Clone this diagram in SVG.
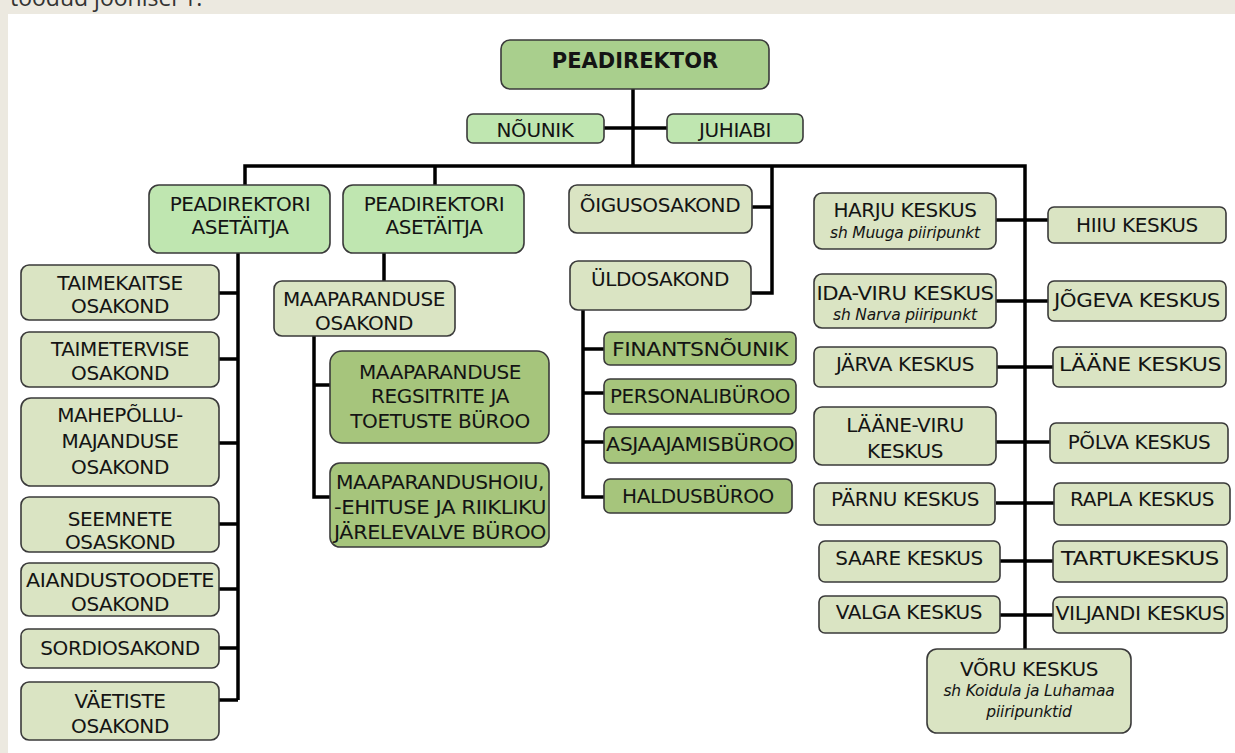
<svg xmlns="http://www.w3.org/2000/svg" width="1235" height="753" viewBox="0 0 1235 753">
<style>
.bg{fill:#ece9e0}
.panel{fill:#ffffff}
rect.n{stroke:#3a3a3a;stroke-width:1.6}
.top{fill:#a9cf8d}
.lg{fill:#bfe6b0}
.pale{fill:#dae4c3}
.mid{fill:#a6c57c}
text{font-family:"DejaVu Sans","Liberation Sans",sans-serif;font-size:20px;letter-spacing:-0.4px;fill:#141414;text-anchor:middle}
text.b{font-weight:bold;font-size:21px;letter-spacing:0}
text.i{font-style:italic;font-size:15.5px;letter-spacing:-0.2px}
text.page{font-family:"Open Sans","DejaVu Sans",sans-serif;font-size:23px;letter-spacing:0;text-anchor:start;fill:#333}
.c{fill:none;stroke:#000;stroke-width:3.5;stroke-linecap:butt;stroke-linejoin:miter}
</style>
<rect class="bg" x="0" y="0" width="1235" height="753"/>
<text class="page" x="10" y="6">toodud joonisel 1.</text>
<rect class="panel" x="8" y="14" width="1227" height="739"/>

<g id="connectors">
<path class="c" d="M633,89 V166"/>
<path class="c" d="M604,128 H667"/>
<path class="c" d="M245,185 V166 H1025 V649"/>
<path class="c" d="M435,166 V185"/>
<path class="c" d="M772,166 V293 H751"/>
<path class="c" d="M752,207 H772"/>
<path class="c" d="M238,253 V700"/>
<path class="c" d="M219,293 H238 M219,359 H238 M219,443 H238 M219,524 H238 M219,589 H238 M219,648 H238 M219,700 H238"/>
<path class="c" d="M384,253 V281"/>
<path class="c" d="M314,336 V497 H330 M314,385 H330"/>
<path class="c" d="M583,310 V497 H604 M583,349 H604 M583,393 H604 M583,442 H604"/>
<path class="c" d="M996,220 H1048 M996,301 H1048 M997,367 H1053 M996,442 H1050 M996,503 H1054 M1000,561 H1053 M1000,615 H1053"/>
</g>

<g id="peadirektor"><rect class="n top" x="501" y="40" width="268" height="49" rx="9"/><text class="b" x="635" y="68">PEADIREKTOR</text></g>
<g id="nounik"><rect class="n lg" x="467" y="114" width="137" height="29" rx="6"/><text x="535" y="137">NÕUNIK</text></g>
<g id="juhiabi"><rect class="n lg" x="667" y="114" width="136" height="29" rx="6"/><text x="735" y="137">JUHIABI</text></g>

<g id="asetaitja1"><rect class="n lg" x="149" y="185" width="181" height="68" rx="10"/><text x="240" y="211">PEADIREKTORI</text><text x="240" y="234">ASETÄITJA</text></g>
<g id="asetaitja2"><rect class="n lg" x="343" y="185" width="181" height="68" rx="10"/><text x="434" y="211">PEADIREKTORI</text><text x="434" y="234">ASETÄITJA</text></g>
<g id="oigusosakond"><rect class="n pale" x="569" y="185" width="183" height="48" rx="8"/><text x="660" y="212">ÕIGUSOSAKOND</text></g>
<g id="uldosakond"><rect class="n pale" x="570" y="261" width="181" height="49" rx="8"/><text x="660" y="286">ÜLDOSAKOND</text></g>

<g id="taimekaitse"><rect class="n pale" x="21" y="265" width="198" height="55" rx="8"/><text x="120" y="290">TAIMEKAITSE</text><text x="120" y="313">OSAKOND</text></g>
<g id="taimetervise"><rect class="n pale" x="21" y="332" width="198" height="55" rx="8"/><text x="120" y="356">TAIMETERVISE</text><text x="120" y="380">OSAKOND</text></g>
<g id="mahepollu"><rect class="n pale" x="21" y="398" width="198" height="88" rx="10"/><text x="120" y="422">MAHEPÕLLU-</text><text x="120" y="448">MAJANDUSE</text><text x="120" y="474">OSAKOND</text></g>
<g id="seemnete"><rect class="n pale" x="21" y="497" width="198" height="55" rx="8"/><text x="120" y="526">SEEMNETE</text><text x="120" y="549">OSASKOND</text></g>
<g id="aiandustoodete"><rect class="n pale" x="21" y="563" width="198" height="53" rx="8"/><text x="120" y="587" textLength="188" lengthAdjust="spacingAndGlyphs">AIANDUSTOODETE</text><text x="120" y="611">OSAKOND</text></g>
<g id="sordiosakond"><rect class="n pale" x="21" y="629" width="198" height="39" rx="7"/><text x="120" y="655">SORDIOSAKOND</text></g>
<g id="vaetiste"><rect class="n pale" x="21" y="682" width="198" height="58" rx="8"/><text x="120" y="708">VÄETISTE</text><text x="120" y="733">OSAKOND</text></g>

<g id="maaparanduse-osakond"><rect class="n pale" x="274" y="281" width="181" height="55" rx="8"/><text x="364" y="306">MAAPARANDUSE</text><text x="364" y="330">OSAKOND</text></g>
<g id="maaparanduse-registrite"><rect class="n mid" x="330" y="351" width="219" height="92" rx="12"/><text x="440" y="379">MAAPARANDUSE</text><text x="440" y="403">REGSITRITE JA</text><text x="440" y="428">TOETUSTE BÜROO</text></g>
<g id="maaparandushoiu"><rect class="n mid" x="330" y="463" width="219" height="84" rx="10"/><text x="440" y="489" textLength="208" lengthAdjust="spacingAndGlyphs">MAAPARANDUSHOIU,</text><text x="440" y="514" textLength="212" lengthAdjust="spacingAndGlyphs">-EHITUSE JA RIIKLIKU</text><text x="440" y="539" textLength="212" lengthAdjust="spacingAndGlyphs">JÄRELEVALVE BÜROO</text></g>

<g id="finantsnounik"><rect class="n mid" x="604" y="332" width="192" height="33" rx="6"/><text x="700" y="356" textLength="176" lengthAdjust="spacingAndGlyphs">FINANTSNÕUNIK</text></g>
<g id="personalibyroo"><rect class="n mid" x="604" y="379" width="192" height="35" rx="6"/><text x="700" y="403" textLength="180" lengthAdjust="spacingAndGlyphs">PERSONALIBÜROO</text></g>
<g id="asjaajamisbyroo"><rect class="n mid" x="604" y="427" width="192" height="36" rx="6"/><text x="700" y="451" textLength="188" lengthAdjust="spacingAndGlyphs">ASJAAJAMISBÜROO</text></g>
<g id="haldusbyroo"><rect class="n mid" x="604" y="479" width="188" height="34" rx="6"/><text x="698" y="503">HALDUSBÜROO</text></g>

<g id="harju"><rect class="n pale" x="814" y="193" width="182" height="56" rx="8"/><text x="905" y="217">HARJU KESKUS</text><text class="i" x="905" y="238">sh Muuga piiripunkt</text></g>
<g id="hiiu"><rect class="n pale" x="1048" y="207" width="178" height="36" rx="6"/><text x="1137" y="232">HIIU KESKUS</text></g>
<g id="ida-viru"><rect class="n pale" x="814" y="274" width="182" height="54" rx="8"/><text x="905" y="300" textLength="177" lengthAdjust="spacingAndGlyphs">IDA-VIRU KESKUS</text><text class="i" x="905" y="320">sh Narva piiripunkt</text></g>
<g id="jogeva"><rect class="n pale" x="1048" y="281" width="178" height="40" rx="6"/><text x="1137" y="307" textLength="166" lengthAdjust="spacingAndGlyphs">JÕGEVA KESKUS</text></g>
<g id="jarva"><rect class="n pale" x="814" y="347" width="183" height="40" rx="6"/><text x="905" y="371">JÄRVA KESKUS</text></g>
<g id="laane"><rect class="n pale" x="1053" y="347" width="173" height="40" rx="6"/><text x="1140" y="371" textLength="162" lengthAdjust="spacingAndGlyphs">LÄÄNE KESKUS</text></g>
<g id="laane-viru"><rect class="n pale" x="814" y="407" width="182" height="58" rx="8"/><text x="905" y="432">LÄÄNE-VIRU</text><text x="905" y="458">KESKUS</text></g>
<g id="polva"><rect class="n pale" x="1050" y="423" width="178" height="40" rx="6"/><text x="1139" y="449">PÕLVA KESKUS</text></g>
<g id="parnu"><rect class="n pale" x="814" y="483" width="181" height="42" rx="6"/><text x="905" y="506">PÄRNU KESKUS</text></g>
<g id="rapla"><rect class="n pale" x="1054" y="483" width="176" height="42" rx="6"/><text x="1142" y="506">RAPLA KESKUS</text></g>
<g id="saare"><rect class="n pale" x="819" y="541" width="181" height="41" rx="6"/><text x="909" y="565">SAARE KESKUS</text></g>
<g id="tartu"><rect class="n pale" x="1053" y="541" width="174" height="41" rx="6"/><text x="1140" y="565" textLength="158" lengthAdjust="spacingAndGlyphs">TARTUKESKUS</text></g>
<g id="valga"><rect class="n pale" x="819" y="596" width="181" height="37" rx="6"/><text x="909" y="619">VALGA KESKUS</text></g>
<g id="viljandi"><rect class="n pale" x="1053" y="597" width="174" height="36" rx="6"/><text x="1140" y="620" textLength="169" lengthAdjust="spacingAndGlyphs">VILJANDI KESKUS</text></g>
<g id="voru"><rect class="n pale" x="927" y="649" width="204" height="84" rx="10"/><text x="1029" y="676">VÕRU KESKUS</text><text class="i" x="1029" y="696">sh Koidula ja Luhamaa</text><text class="i" x="1029" y="717">piiripunktid</text></g>
</svg>
